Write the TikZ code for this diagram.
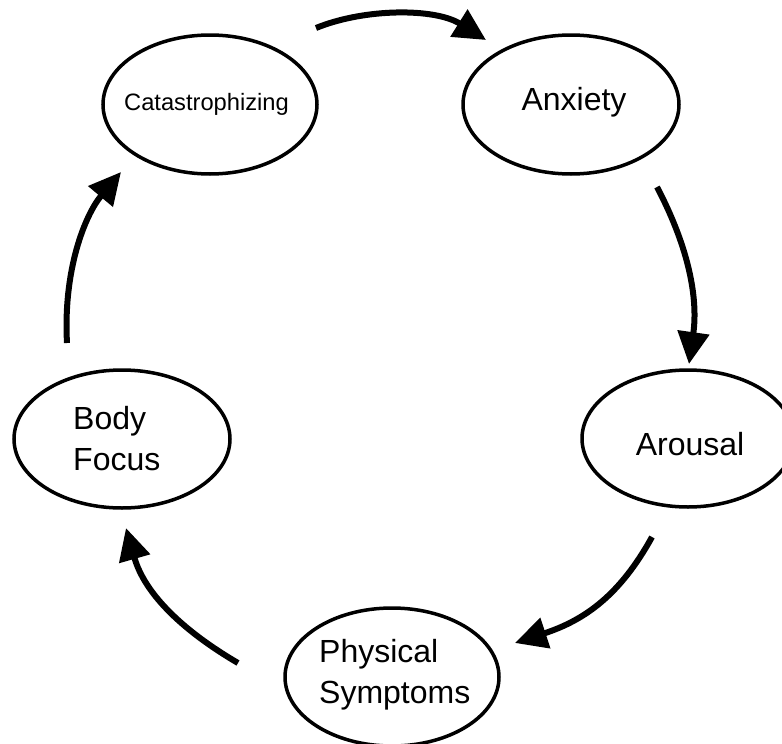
\documentclass[tikz,border=0pt]{standalone}
\usepackage{fontspec}
\setmainfont{Liberation Sans}
\usetikzlibrary{shapes.geometric,arrows.meta}
\begin{document}
\begin{tikzpicture}[x=1pt,y=-1pt,
  state/.style={draw,ellipse,line width=3.5pt,inner sep=0pt},
  lbl/.style={inner sep=0pt,font=\fontsize{32}{41}\selectfont,align=left},
  flow/.style={line width=6pt,-{Triangle[length=32pt,width=31pt]}}]
\useasboundingbox (0,0) rectangle (782,744);
% ellipses
\node[state,minimum width=214pt,minimum height=139pt] (cat) at (210,104.5) {};
\node[state,minimum width=216pt,minimum height=139pt] (anx) at (571,104.5) {};
\node[state,minimum width=212pt,minimum height=137pt] (aro) at (688,438.5) {};
\node[state,minimum width=216pt,minimum height=138pt] (body) at (122,439) {};
\node[state,minimum width=214pt,minimum height=138pt] (phys) at (392,677) {};
% texts
\node[lbl,font=\fontsize{23.7}{28}\selectfont,anchor=base] (catT) at (206.5,110) {Catastrophizing};
\node[lbl,anchor=base] (anxT) at (574,110) {Anxiety};
\node[lbl,anchor=base] (aroT) at (690,455) {Arousal};
\node[lbl,anchor=base west] (bodyT) at (73,470) {Body\\Focus};
\node[lbl,anchor=base west] (physT) at (319,703) {Physical\\Symptoms};
% connector ends
\coordinate (a1) at (316,28);   \coordinate (b1) at (486,40);
\coordinate (a2) at (657,187);  \coordinate (b2) at (689,364);
\coordinate (a3) at (652,537);  \coordinate (b3) at (515,643);
\coordinate (a4) at (238,663);  \coordinate (b4) at (126,528);
\coordinate (a5) at (67,343);   \coordinate (b5) at (121,172);
% arrows
\draw[flow] (a1) .. controls (365,8) and (435,8) .. (b1);
\draw[flow] (a2) .. controls (690,250) and (698,300) .. (b2);
\draw[flow] (a3) .. controls (620,595) and (585,620) .. (b3);
\draw[flow] (a4) .. controls (185,632) and (145,595) .. (b4);
\draw[flow] (a5) .. controls (63,270) and (85,215) .. (b5);
\end{tikzpicture}
\end{document}
